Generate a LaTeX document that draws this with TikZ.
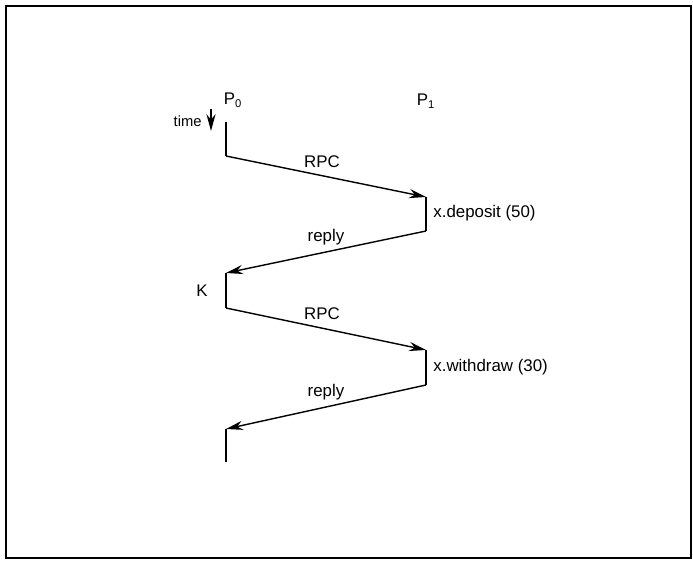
\documentclass[tikz,border=0pt]{standalone}
\usepackage{fontspec}
\setmainfont{Liberation Sans}
\usetikzlibrary{arrows.meta}

\begin{document}
\begin{tikzpicture}[x=0.025cm, y=-0.025cm, line width=1pt,
    every node/.style={font=\fontsize{12}{14}\selectfont},
    msg/.style={-{Stealth[length=12pt,width=6.5pt]}}]
  \useasboundingbox (0,0) rectangle (693,564);
  \draw (6,6) rectangle (691,558);
  % event points on the two process lines
  \foreach \n/\x/\y in {a0/226/122,a1/226/156,a2/226/273,a3/226/308,a4/226/429,a5/226/462,
                        b1/426/197,b2/426/231,b3/426/350,b4/426/385}{
    \coordinate (\n) at (\x,\y);
  }
  \node (p0) at (233,100) {P\textsubscript{0}};
  \node (p1) at (426,101) {P\textsubscript{1}};
  \node[left, font=\fontsize{10.5}{12}\selectfont] (time) at (207,121) {time};
  \draw[msg] (211,109) -- (211,131);
  % local segments
  \draw (a0) -- (a1);
  \draw (b1) -- (b2);
  \draw (a2) -- (a3);
  \draw (b3) -- (b4);
  \draw (a4) -- (a5);
  \node[right] (dep) at (428,213) {x.deposit (50)};
  \node[right] (wd) at (428,367) {x.withdraw (30)};
  \node (k) at (202,291) {K};
  % messages
  \draw[msg] (a1) -- node[above=2pt, pos=0.48] (rpc1) {RPC} (b1);
  \draw[msg] (b2) -- node[above=1pt, pos=0.5] (rep1) {reply} (a2);
  \draw[msg] (a3) -- node[above=2pt, pos=0.48] (rpc2) {RPC} (b3);
  \draw[msg] (b4) -- node[above=1pt, pos=0.5] (rep2) {reply} (a4);
\end{tikzpicture}
\end{document}
